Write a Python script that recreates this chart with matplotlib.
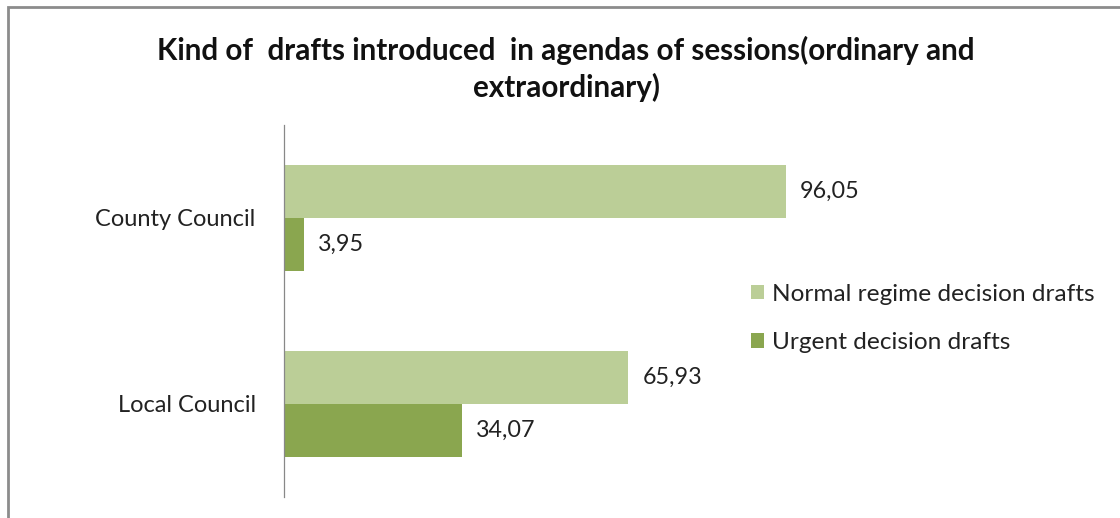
import matplotlib.pyplot as plt
from matplotlib.patches import Rectangle
import numpy as np

# --- datos ---
categories = ['County Council', 'Local Council']
normal = [96.05, 65.93]
urgent = [3.95, 34.07]
series_names = ['Normal regime decision drafts', 'Urgent decision drafts']
title = 'Kind of  drafts introduced  in agendas of sessions(ordinary and\nextraordinary)'

light = '#BBCE97'
dark = '#8AA64F'

plt.rcParams['font.family'] = ['Lato', 'DejaVu Sans']

W, H = 1120, 518
fig = plt.figure(figsize=(W / 100, H / 100), dpi=100)

# marco gris (solo se ve arriba y a la izquierda)
fig.add_artist(Rectangle((8 / W, -0.2), 1.2, 0.2 + (H - 7) / H, transform=fig.transFigure,
                         fill=False, ec='#8c8c8c', lw=2))

# ejes: eje vertical en x=283.5 px, de y=125 a y=497 px
xmax = 120
px_per_unit = 5.23
left = 283.5 / W
width = xmax * px_per_unit / W
ax = fig.add_axes([left, (H - 497) / H, width, 372 / H])

y = np.arange(len(categories))
h = 0.285
bars_n = ax.barh(y - h / 2, normal, height=h, color=light, label=series_names[0])
bars_u = ax.barh(y + h / 2, urgent, height=h, color=dark, label=series_names[1])

for bars, vals in [(bars_n, normal), (bars_u, urgent)]:
    for b, v in zip(bars, vals):
        ax.text(b.get_width() + 2.7, b.get_y() + b.get_height() / 2,
                f'{v:.2f}'.replace('.', ','), ha='left', va='center',
                fontsize=16.8, color='#222222')

ax.set_xlim(0, xmax)
ax.set_ylim(len(categories) - 0.5, -0.5)
ax.set_yticks(y)
ax.set_yticklabels(categories, fontsize=17, color='#222222')
ax.tick_params(axis='y', length=0, pad=20)
ax.set_xticks([])
for s in ['top', 'right', 'bottom']:
    ax.spines[s].set_visible(False)
ax.spines['left'].set_color('#888888')
ax.spines['left'].set_linewidth(0.9)

fig.text(566 / W, 1 - 69 / H, title, ha='center', va='center', fontsize=21.3,
         fontweight='bold', linespacing=1.3, color='#111111')

leg = fig.legend(loc='center left', bbox_to_anchor=(729 / W, 1 - 318.5 / H), frameon=False,
                 fontsize=17.6, handlelength=0.53, handleheight=0.53, handletextpad=0.32,
                 labelspacing=1.12)
for t in leg.get_texts():
    t.set_color('#222222')

fig.savefig('out.png', dpi=100, facecolor='white')
